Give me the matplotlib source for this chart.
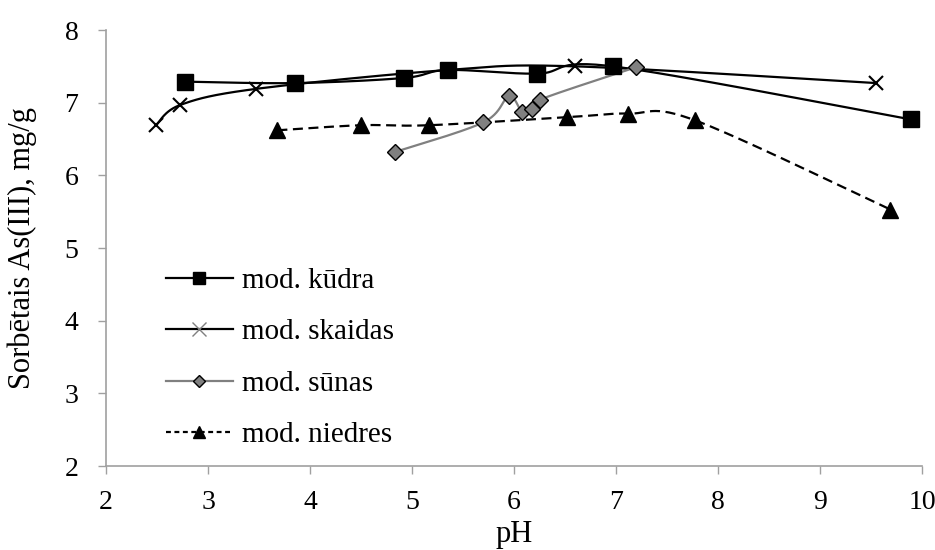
import numpy as np
import matplotlib
matplotlib.use("Agg")
import matplotlib.pyplot as plt
from matplotlib.lines import Line2D

plt.rcParams['font.family'] = ['Liberation Serif', 'DejaVu Serif']

kudra_x = [2.77, 3.85, 4.92, 5.35, 6.23, 6.97, 9.89]
kudra_y = [7.29, 7.27, 7.34, 7.45, 7.40, 7.50, 6.77]

skaidas_x = [2.49, 2.73, 3.47, 5.35, 6.60, 9.55]
skaidas_y = [6.69, 6.97, 7.19, 7.45, 7.50, 7.27]

sunas_x = [4.83, 5.70, 5.95, 6.08, 6.18, 6.25, 7.20]
sunas_y = [6.32, 6.73, 7.09, 6.87, 6.91, 7.04, 7.49]

niedres_x = [3.68, 4.50, 5.17, 6.52, 7.12, 7.77, 9.69]
niedres_y = [6.62, 6.69, 6.69, 6.80, 6.85, 6.76, 5.53]

labels = ['mod. kūdra', 'mod. skaidas', 'mod. sūnas', 'mod. niedres']


def smooth(x, y, n=30, t=1/6):
    """Excel-like smoothed line: cubic Bezier through points (Catmull-Rom)."""
    x = np.asarray(x, float); y = np.asarray(y, float)
    P = np.column_stack([x, y])
    out = [P[0]]
    m = len(P)
    for i in range(m - 1):
        p0 = P[i - 1] if i > 0 else P[i]
        p1 = P[i]
        p2 = P[i + 1]
        p3 = P[i + 2] if i + 2 < m else P[i + 1]
        c1 = p1 + (p2 - p0) * t
        c2 = p2 - (p3 - p1) * t
        s = np.linspace(0, 1, n)[1:, None]
        seg = ((1 - s) ** 3) * p1 + 3 * ((1 - s) ** 2) * s * c1 + 3 * (1 - s) * s ** 2 * c2 + s ** 3 * p2
        out.extend(seg)
    out = np.array(out)
    return out[:, 0], out[:, 1]


fig = plt.figure(figsize=(9.35, 5.5), dpi=100)
ax = fig.add_axes([0.1134, 0.1527, 0.8727, 0.7927])

series = [
    (kudra_x, kudra_y, dict(color='black', lw=1.6, ls='-'),
     dict(marker='s', ms=11, mfc='black', mec='black')),
    (skaidas_x, skaidas_y, dict(color='black', lw=1.6, ls='-'),
     dict(marker='x', ms=10, mec='black', mew=1.5)),
    (sunas_x, sunas_y, dict(color='#808080', lw=1.6, ls='-'),
     dict(marker='D', ms=8, mfc='#808080', mec='black', mew=1.0)),
    (niedres_x, niedres_y, dict(color='black', lw=1.6, ls=(0, (4.5, 2.5))),
     dict(marker='^', ms=11, mfc='black', mec='black')),
]

for xs, ys, lstyle, mstyle in series:
    sx, sy = smooth(xs, ys)
    ax.plot(sx, sy, zorder=2, **lstyle)
    ax.plot(xs, ys, ls='none', zorder=3, **mstyle)

handles = []
for xs, ys, lstyle, mstyle in series:
    ms = dict(mstyle)
    ms['ms'] = ms['ms'] * 0.75
    if ms['marker'] == 'x':
        ms['mec'] = '#808080'
        ms['mew'] = 1.0
        ms['ms'] = 10
    ls = dict(lstyle)
    if ls['ls'] != '-':
        ls['ls'] = (0, (2.2, 1.6))
    handles.append(Line2D([], [], **ls, **ms))

leg = ax.legend(handles, labels, loc='upper left', bbox_to_anchor=(0.059, 0.482),
                frameon=False, fontsize=21, handlelength=2.3, handletextpad=0.3,
                labelspacing=0.86, borderaxespad=0)

ax.set_xlim(2, 10)
ax.set_ylim(2, 8)
ax.set_xticks(np.arange(2, 11, 1))
ax.set_yticks(np.arange(2, 9, 1))
ax.tick_params(axis='both', direction='out', length=6, width=1.0, color='#a0a0a0',
               labelsize=20)
ax.tick_params(axis='x', pad=11)
ax.tick_params(axis='y', pad=14)
for s in ['top', 'right']:
    ax.spines[s].set_visible(False)
for s in ['left', 'bottom']:
    ax.spines[s].set_color('#a0a0a0')
    ax.spines[s].set_linewidth(1.2)

ax.set_xlabel('pH', fontsize=22, labelpad=4)
ax.set_ylabel('Sorbētais As(III), mg/g', fontsize=22, labelpad=20)

fig.savefig('out.png', dpi=100)
